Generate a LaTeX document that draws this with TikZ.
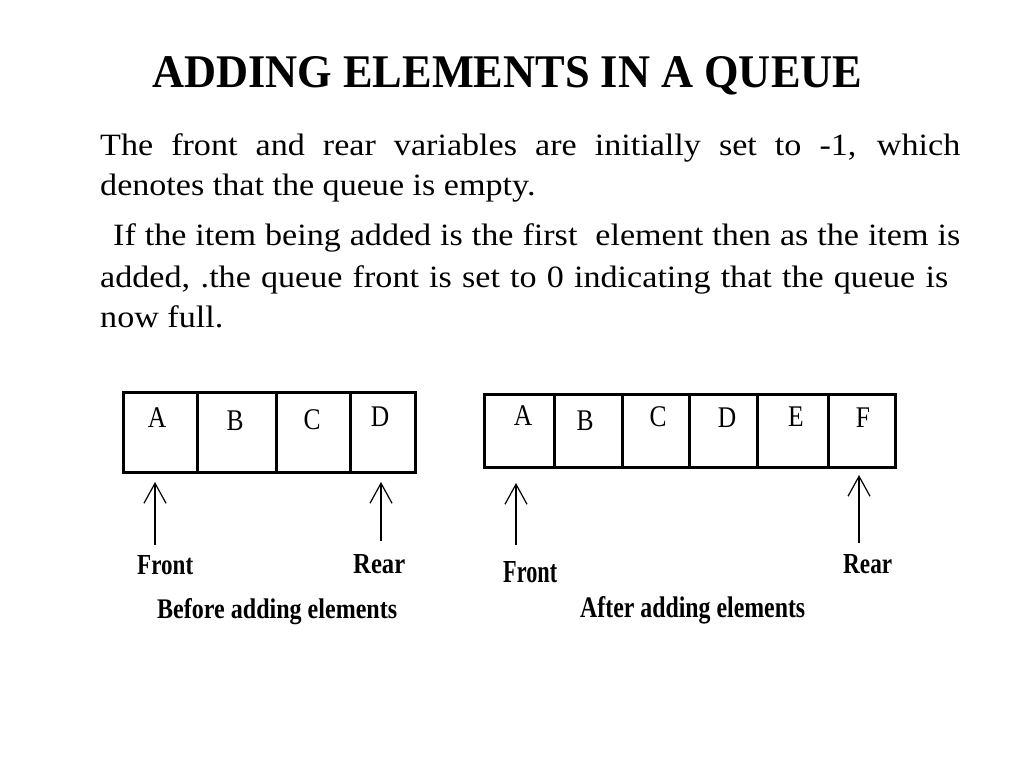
\documentclass[tikz,border=0pt]{standalone}
\usepackage{fontspec}
\setmainfont{Liberation Serif}
\newfontfamily\bodyfont[FakeStretch=1.1]{Liberation Serif}
\usetikzlibrary{arrows.meta}
\begin{document}
\begin{tikzpicture}[x=1pt,y=-1pt,
  para/.style={anchor=base west, inner sep=0, font=\bodyfont\fontsize{31}{31}\selectfont},
  lab/.style={anchor=base west, inner sep=0},
  letter/.style={inner sep=0, font=\fontsize{30}{30}\selectfont},
  cell/.style={draw, line width=3pt, inner sep=0},
  lcell/.style={cell, minimum height=80pt},
  rcell/.style={cell, minimum height=73pt},
  ptr/.style={line width=1.3pt, -{Straight Barb[length=20pt,width=22pt,line width=1.2pt]}},
]
\useasboundingbox (0,0) rectangle (1024,768);
\fill[white] (0,0) rectangle (1024,768);

% title
\node[lab] (title) at (152,88) {\resizebox{710pt}{31pt}{\bfseries ADDING ELEMENTS IN A QUEUE}};

% paragraph
\node[para] (p1) at (100,155) {\makebox[860pt][s]{The front and rear variables are initially set to -1, which}};
\node[para] (p2) at (100,195) {denotes that the queue is empty.};
\node[para] (p3) at (113,245) {\makebox[847pt][s]{If the item being added is the first\ \ element then as the item is}};
\node[para] (p4) at (100,287) {\makebox[848pt][s]{added, .the queue front is set to 0 indicating that the queue is}};
\node[para] (p5) at (100,327) {now full.};

% left queue
\node[lcell, minimum width=74pt] (lA) at (160,432) {};
\node[lcell, minimum width=79pt] (lB) at (236.5,432) {};
\node[lcell, minimum width=74pt] (lC) at (313,432) {};
\node[lcell, minimum width=65pt] (lD) at (382.5,432) {};
\node[letter] (lAt) at (157,418) {\scalebox{0.85}[1]{A}};
\node[letter] (lBt) at (235,421) {\scalebox{0.85}[1]{B}};
\node[letter] (lCt) at (312,420) {\scalebox{0.85}[1]{C}};
\node[letter] (lDt) at (380,417) {\scalebox{0.85}[1]{D}};

% right queue
\node[rcell, minimum width=70pt] (rA) at (519,430.5) {};
\node[rcell, minimum width=68pt] (rB) at (588,430.5) {};
\node[rcell, minimum width=67pt] (rC) at (655.5,430.5) {};
\node[rcell, minimum width=68pt] (rD) at (723,430.5) {};
\node[rcell, minimum width=71pt] (rE) at (792.5,430.5) {};
\node[rcell, minimum width=67pt] (rF) at (861.5,430.5) {};
\node[letter] (rAt) at (523,416) {\scalebox{0.85}[1]{A}};
\node[letter] (rBt) at (585,421) {\scalebox{0.85}[1]{B}};
\node[letter] (rCt) at (658,417) {\scalebox{0.85}[1]{C}};
\node[letter] (rDt) at (727,418) {\scalebox{0.85}[1]{D}};
\node[letter] (rEt) at (796,417) {\scalebox{0.85}[1]{E}};
\node[letter] (rFt) at (863,418) {\scalebox{0.85}[1]{F}};

% labels
\node[lab] (lfront) at (137,574) {\resizebox{56pt}{19pt}{\bfseries Front}};
\node[lab] (lrear) at (353,573) {\resizebox{52pt}{19pt}{\bfseries Rear}};
\node[lab] (lcap) at (157,618) {\resizebox{240pt}{20pt}{\bfseries Before adding elements}};
\node[lab] (rfront) at (503,582) {\resizebox{54pt}{21pt}{\bfseries Front}};
\node[lab] (rrear) at (843,573) {\resizebox{49pt}{19pt}{\bfseries Rear}};
\node[lab] (rcap) at (580,617) {\resizebox{225pt}{21pt}{\bfseries After adding elements}};

% pointer arrows
\coordinate (lfb) at (155,545);  \coordinate (lft) at (155,482);
\coordinate (lrb) at (381,541);  \coordinate (lrt) at (381,482);
\coordinate (rfb) at (516,545);  \coordinate (rft) at (516,483);
\coordinate (rrb) at (859,543);  \coordinate (rrt) at (859,475);
\draw[ptr] (lfb) -- (lft);
\draw[ptr] (lrb) -- (lrt);
\draw[ptr] (rfb) -- (rft);
\draw[ptr] (rrb) -- (rrt);
\end{tikzpicture}
\end{document}
